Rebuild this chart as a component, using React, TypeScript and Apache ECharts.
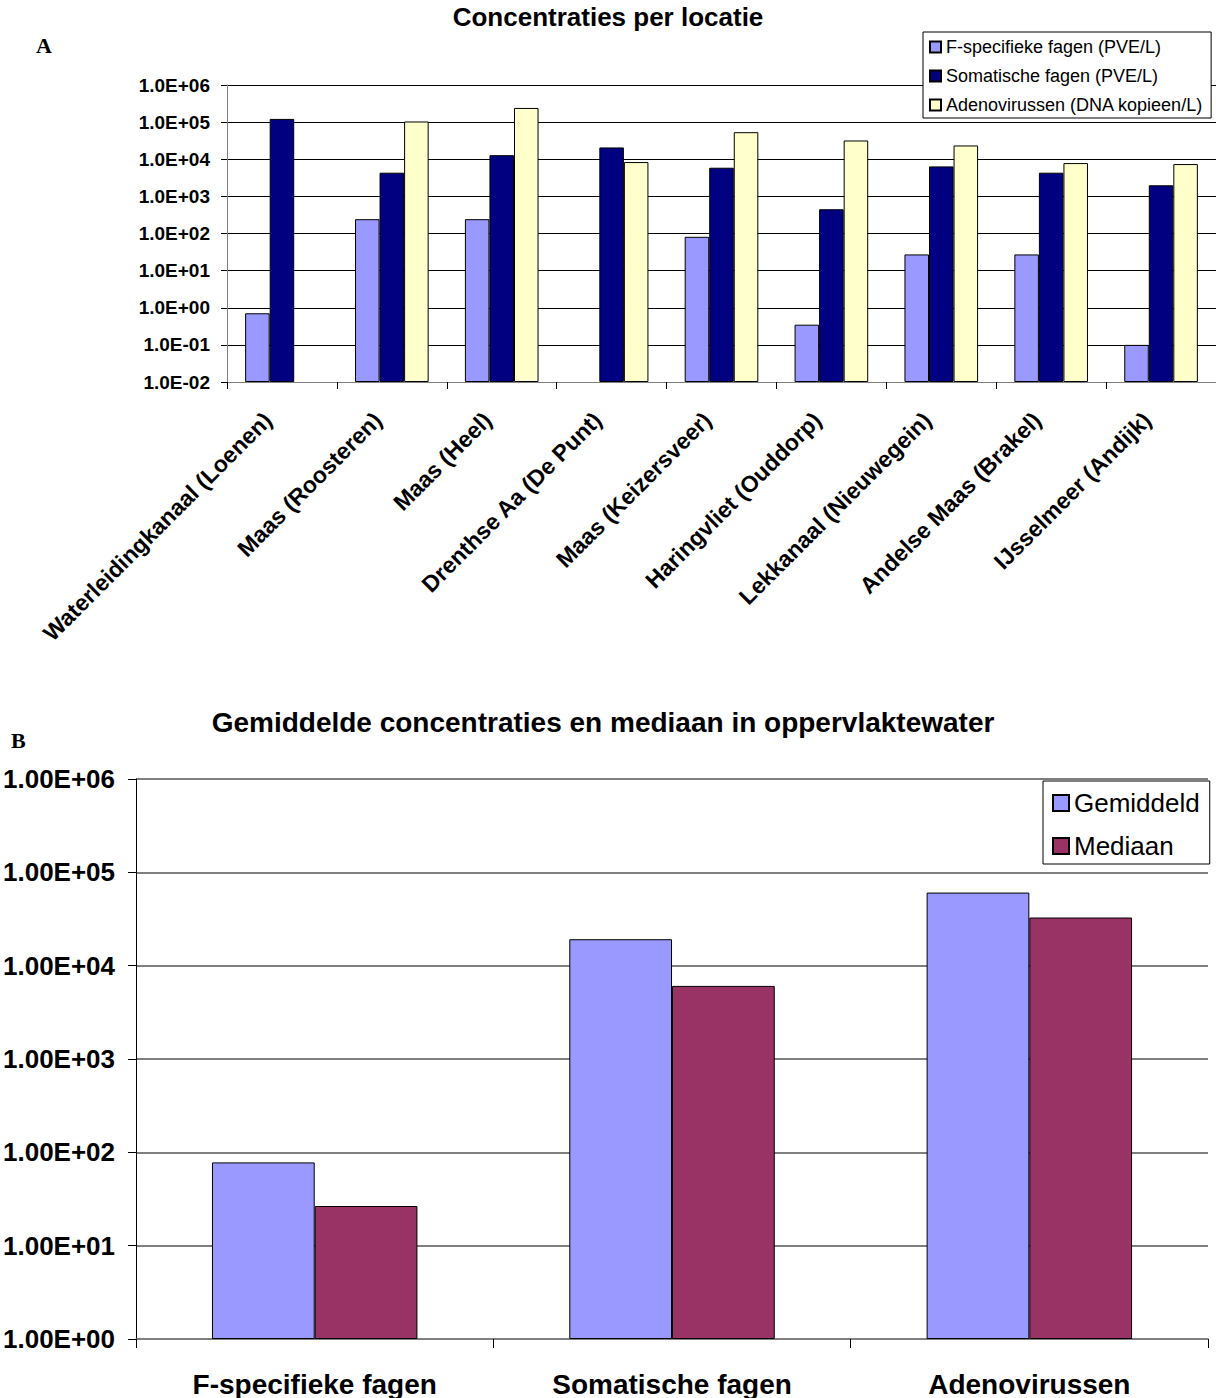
import React, { useEffect, useRef } from "react";
import * as echarts from "echarts";

const categoriesA = [
  "Waterleidingkanaal (Loenen)",
  "Maas (Roosteren)",
  "Maas (Heel)",
  "Drenthse Aa (De Punt)",
  "Maas (Keizersveer)",
  "Haringvliet (Ouddorp)",
  "Lekkanaal (Nieuwegein)",
  "Andelse Maas (Brakel)",
  "IJsselmeer (Andijk)",
];
const fSpecifiek = [0.71, 243, 243, null, 81.5, 0.35, 27.3, 27.3, 0.1];
const somatisch = [122000, 4340, 12900, 20800, 5910, 450, 6420, 4340, 1990];
const adeno = [null, 104000, 241000, 8400, 53600, 32000, 23500, 7890, 7420];
const seriesNamesA = [
  "F-specifieke fagen (PVE/L)",
  "Somatische fagen (PVE/L)",
  "Adenovirussen (DNA kopieen/L)",
];

const categoriesB = ["F-specifieke fagen", "Somatische fagen", "Adenovirussen"];
const gemiddeld = [78, 19200, 60700];
const mediaan = [26.6, 6070, 32800];
const seriesNamesB = ["Gemiddeld", "Mediaan"];

const FONT = "'Liberation Sans', Arial, sans-serif";

function sci(v: number, digits: number) {
  const e = Math.round(Math.log10(v));
  const m = (v / Math.pow(10, e)).toFixed(digits);
  const sign = e < 0 ? "-" : "+";
  const a = Math.abs(e);
  return `${m}E${sign}${a < 10 ? "0" + a : a}`;
}

export default function App() {
  const ref = useRef<HTMLDivElement>(null);
  useEffect(() => {
    if (!ref.current) return;
    const chart = echarts.init(ref.current, null, { renderer: "svg" });
    const border = { borderColor: "#000", borderWidth: 1 };
    chart.setOption({
      animation: false,
      backgroundColor: "#fff",
      textStyle: { fontFamily: FONT },
      title: [
        {
          text: "Concentraties per locatie",
          left: "center",
          top: 4,
          padding: 0,
          textStyle: { fontSize: 26, fontWeight: "bold", color: "#000", fontFamily: FONT },
        },
        {
          text: "Gemiddelde concentraties en mediaan in oppervlaktewater",
          left: 603,
          textAlign: "center",
          top: 708,
          padding: 0,
          textStyle: { fontSize: 28, fontWeight: "bold", color: "#000", fontFamily: FONT },
        },
      ],
      graphic: [
        {
          type: "text",
          left: 36,
          top: 34,
          style: { text: "A", font: "bold 22px 'Liberation Serif', 'Times New Roman', serif", fill: "#000" },
        },
        {
          type: "text",
          left: 11,
          top: 729,
          style: { text: "B", font: "bold 22px 'Liberation Serif', 'Times New Roman', serif", fill: "#000" },
        },
      ],
      legend: [
        {
          data: seriesNamesA,
          orient: "vertical",
          left: 923,
          top: 32,
          padding: [6, 8, 4, 6],
          itemGap: 11,
          itemWidth: 11,
          itemHeight: 11,
          borderColor: "#000",
          borderWidth: 1,
          backgroundColor: "#fff",
          icon: "rect",
          textStyle: { fontSize: 18, color: "#000", fontFamily: FONT },
        },
        {
          data: seriesNamesB,
          orient: "vertical",
          left: 1043,
          top: 781,
          padding: [9, 10, 5, 9],
          itemGap: 17,
          itemWidth: 16,
          itemHeight: 16,
          borderColor: "#000",
          borderWidth: 1,
          backgroundColor: "#fff",
          icon: "rect",
          textStyle: { fontSize: 26, color: "#000", fontFamily: FONT },
        },
      ],
      grid: [
        { left: 227, top: 85, width: 989, height: 297 },
        { left: 134, top: 779, width: 1074, height: 560 },
      ],
      xAxis: [
        {
          type: "category",
          gridIndex: 0,
          data: categoriesA,
          axisLine: { lineStyle: { color: "#808080", width: 1 } },
          axisTick: { show: true, length: 7, lineStyle: { color: "#000" } },
          axisLabel: {
            rotate: 45,
            margin: 20,
            padding: [0, 20, 0, 0],
            interval: 0,
            fontSize: 23,
            fontWeight: "bold",
            color: "#000",
            fontFamily: FONT,
          },
        },
        {
          type: "category",
          gridIndex: 1,
          data: categoriesB,
          axisLine: { lineStyle: { color: "#808080", width: 1.5 } },
          axisTick: { show: true, length: 9, lineStyle: { color: "#000" } },
          axisLabel: {
            margin: 31,
            interval: 0,
            fontSize: 28,
            fontWeight: "bold",
            color: "#000",
            fontFamily: FONT,
          },
        },
      ],
      yAxis: [
        {
          type: "log",
          gridIndex: 0,
          logBase: 10,
          min: 0.01,
          max: 1000000,
          startValue: 0.01,
          axisLine: { show: true, lineStyle: { color: "#808080" } },
          axisTick: { show: true, length: 6, lineStyle: { color: "#000" } },
          splitLine: { show: true, lineStyle: { color: "#000", width: 1 } },
          axisLabel: {
            margin: 17,
            fontSize: 19,
            fontWeight: "bold",
            color: "#000",
            fontFamily: FONT,
            formatter: (v: number) => sci(v, 1),
          },
        },
        {
          type: "log",
          gridIndex: 1,
          logBase: 10,
          min: 1,
          max: 1000000,
          startValue: 1,
          axisLine: { show: true, lineStyle: { color: "#000" } },
          axisTick: { show: true, length: 8, lineStyle: { color: "#000" } },
          splitLine: { show: true, lineStyle: { color: "#555", width: 1.5 } },
          axisLabel: {
            margin: 21,
            fontSize: 26,
            fontWeight: "bold",
            color: "#000",
            fontFamily: FONT,
            formatter: (v: number) => sci(v, 2),
          },
        },
      ],
      series: [
        {
          type: "bar",
          name: seriesNamesA[0],
          xAxisIndex: 0,
          yAxisIndex: 0,
          data: fSpecifiek,
          barGap: "0%",
          barCategoryGap: "33%",
          itemStyle: { color: "#9999FF", ...border },
        },
        {
          type: "bar",
          name: seriesNamesA[1],
          xAxisIndex: 0,
          yAxisIndex: 0,
          data: somatisch,
          barGap: "0%",
          barCategoryGap: "33%",
          itemStyle: { color: "#000080", ...border },
        },
        {
          type: "bar",
          name: seriesNamesA[2],
          xAxisIndex: 0,
          yAxisIndex: 0,
          data: adeno,
          barGap: "0%",
          barCategoryGap: "33%",
          itemStyle: { color: "#FFFFCC", ...border },
        },
        {
          type: "bar",
          name: seriesNamesB[0],
          xAxisIndex: 1,
          yAxisIndex: 1,
          data: gemiddeld,
          barGap: "0%",
          barCategoryGap: "42.5%",
          itemStyle: { color: "#9999FF", ...border },
        },
        {
          type: "bar",
          name: seriesNamesB[1],
          xAxisIndex: 1,
          yAxisIndex: 1,
          data: mediaan,
          barGap: "0%",
          barCategoryGap: "42.5%",
          itemStyle: { color: "#993366", ...border },
        },
      ],
    });
    return () => chart.dispose();
  }, []);
  return (
    <div
      ref={ref}
      style={{ position: "absolute", left: 0, top: 0, width: 1216, height: 1398 }}
    />
  );
}
